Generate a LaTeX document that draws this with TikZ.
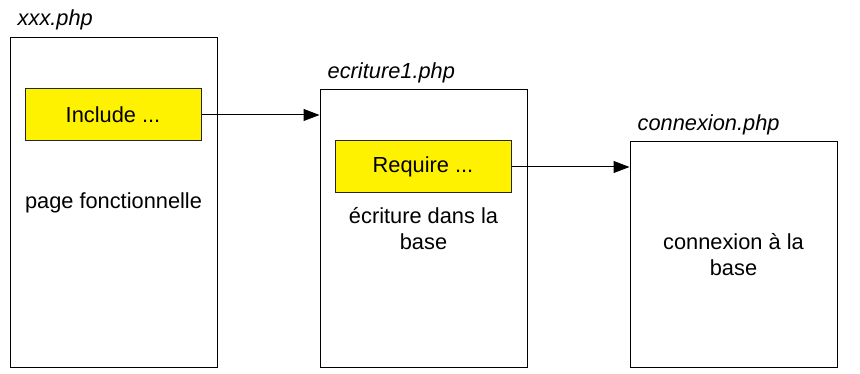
\documentclass[tikz,border=0pt]{standalone}
\usepackage{fontspec}
\setmainfont{Liberation Sans}
\usetikzlibrary{arrows.meta,positioning}

\begin{document}
\begin{tikzpicture}[
    x=1pt, y=1pt,
    every node/.style={font=\fontsize{21.8}{26}\selectfont},
    page/.style={draw, line width=1pt, align=center, minimum width=207pt, inner sep=0pt},
    call/.style={draw=black!85, line width=1pt, fill=yellow, minimum width=176pt, minimum height=52pt, inner sep=0pt},
    filename/.style={font=\fontsize{21.8}{26}\selectfont\itshape, inner sep=0pt, anchor=base west},
    flow/.style={-{Triangle[length=16pt, width=12pt]}, line width=1pt}
]
\useasboundingbox (0,0) rectangle (860,374);
\node[page, minimum height=330pt] (xxx) at (113.5,171) {page fonctionnelle};
\node[page, minimum height=278pt] (ecriture) at (423.5,145) {\'ecriture dans la\\base};
\node[page, minimum height=226pt] (connexion) at (733.5,119) {connexion \`a la\\base};
\node[call] (include) at (113,259) {Include ...};
\node[call] (require) at (423,207) {Require ...};
\node[filename] (xxxname) at ([shift={(8,12)}]xxx.north west) {xxx.php};
\node[filename] (ecriturename) at ([shift={(8,11)}]ecriture.north west) {ecriture1.php};
\node[filename] (connexionname) at ([shift={(8,11)}]connexion.north west) {connexion.php};
\draw[flow] (include.east) -- (ecriture.west |- include.east);
\draw[flow] (require.east) -- (connexion.west |- require.east);
\end{tikzpicture}
\end{document}
